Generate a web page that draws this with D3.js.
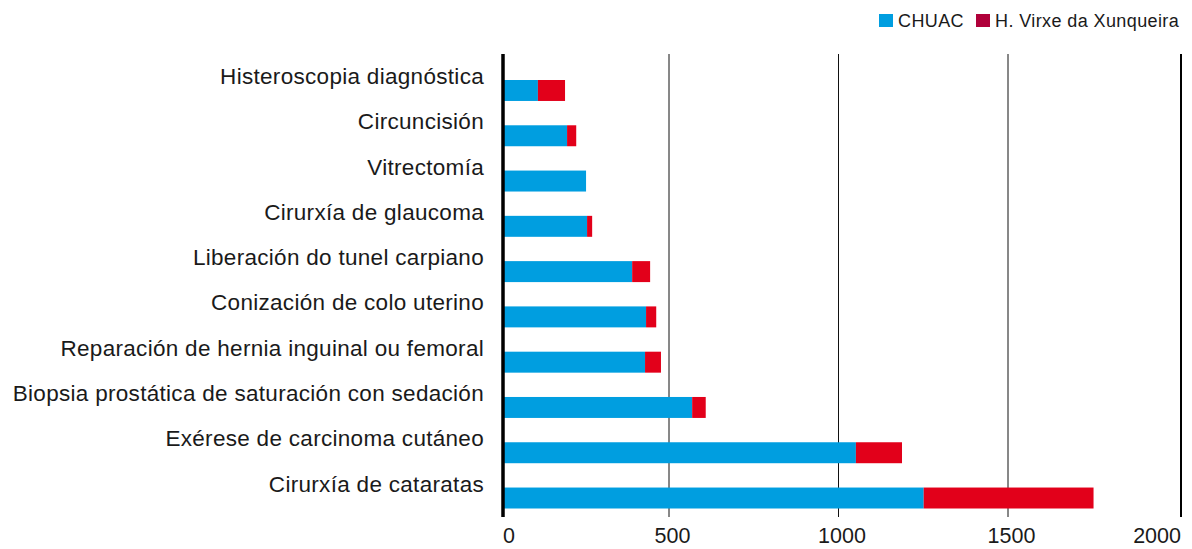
<!DOCTYPE html>
<html>
<head>
<meta charset="utf-8">
<script src="https://cdn.jsdelivr.net/npm/d3@7"></script>
<style>
  body { margin: 0; background: #fff; }
  svg { display: block; font-family: "Liberation Sans", Arial, sans-serif; }
</style>
</head>
<body>
<svg width="1192" height="549"></svg>
<script>
// categorias, de arriba a abajo
var categorias = [
  "Histeroscopia diagnóstica",
  "Circuncisión",
  "Vitrectomía",
  "Cirurxía de glaucoma",
  "Liberación do tunel carpiano",
  "Conización de colo uterino",
  "Reparación de hernia inguinal ou femoral",
  "Biopsia prostática de saturación con sedación",
  "Exérese de carcinoma cutáneo",
  "Cirurxía de cataratas"
];
var chuac = [103, 189, 245, 248, 381, 422, 419, 558, 1041, 1241];
var xunqueira = [80, 27, 0, 15, 53, 30, 47, 40, 136, 501];
var series = ["CHUAC", "H. Virxe da Xunqueira"];
var ticks = [0, 500, 1000, 1500, 2000];

var svg = d3.select("svg");
var top_ = 54, bottom = 517;

var x = d3.scaleLinear().domain([0, 2000]).range([503, 1181]);
var y = d3.scaleBand().domain(categorias).range([80, 508.5]).paddingInner(0.537).paddingOuter(0);

var colorBarra = ["#009ee0", "#e2001a"];
var colorLeyenda = ["#009ee0", "#b0003a"];

var datos = categorias.map(function(c, i) {
  return {cat: c, CHUAC: chuac[i], "H. Virxe da Xunqueira": xunqueira[i]};
});
var stack = d3.stack().keys(series)(datos);

// lineas de rejilla
svg.append("g").selectAll("line")
  .data(ticks.slice(1, 4))
  .enter().append("line")
  .attr("x1", function(d) { return x(d) - 3.5; })
  .attr("x2", function(d) { return x(d) - 3.5; })
  .attr("y1", top_).attr("y2", bottom)
  .attr("stroke", "#111").attr("stroke-width", 1);

svg.append("line")
  .attr("x1", x(2000)).attr("x2", x(2000))
  .attr("y1", top_).attr("y2", bottom)
  .attr("stroke", "#000").attr("stroke-width", 2);

// barras
svg.append("g").selectAll("g")
  .data(stack)
  .enter().append("g")
  .attr("fill", function(d, i) { return colorBarra[i]; })
  .selectAll("rect")
  .data(function(d) { return d; })
  .enter().append("rect")
  .attr("x", function(d) { return x(d[0]); })
  .attr("width", function(d) { return x(d[1]) - x(d[0]); })
  .attr("y", function(d) { return y(d.data.cat); })
  .attr("height", y.bandwidth());

// eje izquierdo
svg.append("line")
  .attr("x1", x(0)).attr("x2", x(0))
  .attr("y1", top_).attr("y2", bottom)
  .attr("stroke", "#000").attr("stroke-width", 3.5);

// etiquetas de categorias
svg.append("g").selectAll("text")
  .data(categorias)
  .enter().append("text")
  .attr("x", 484)
  .attr("y", function(d) { return y(d) + 4; })
  .attr("text-anchor", "end")
  .attr("fill", "#1a1a1a")
  .style("font-size", "22.5px")
  .style("letter-spacing", "0.3px")
  .text(function(d) { return d; });

// etiquetas eje x
svg.append("g").selectAll("text")
  .data(ticks)
  .enter().append("text")
  .attr("x", function(d) { return x(d); })
  .attr("y", 543)
  .attr("text-anchor", function(d, i) { return i === 0 ? "start" : (i === ticks.length - 1 ? "end" : "middle"); })
  .attr("fill", "#1a1a1a")
  .style("font-size", "21.5px")
  .text(function(d) { return d; });

// leyenda
var leyX = [879, 976];
var ley = svg.append("g").selectAll("g")
  .data(series)
  .enter().append("g")
  .attr("transform", function(d, i) { return "translate(" + leyX[i] + ",14)"; });
ley.append("rect")
  .attr("width", 14).attr("height", 13)
  .attr("fill", function(d, i) { return colorLeyenda[i]; });
ley.append("text")
  .attr("x", 19).attr("y", 13)
  .attr("fill", "#1a1a1a")
  .style("font-size", "18px")
  .style("letter-spacing", "0.4px")
  .text(function(d) { return d; });
</script>
</body>
</html>
